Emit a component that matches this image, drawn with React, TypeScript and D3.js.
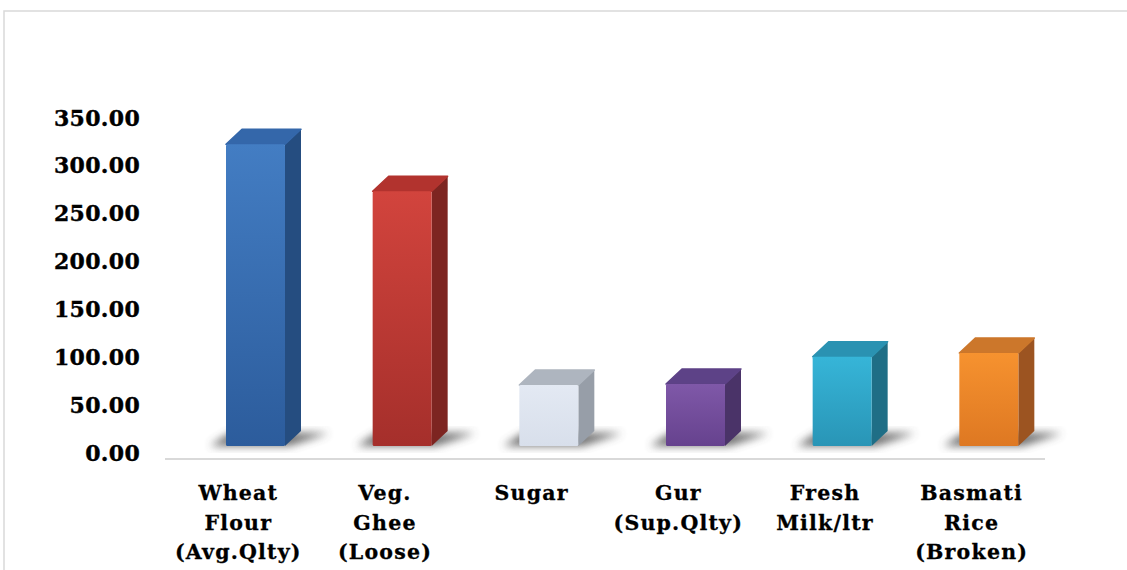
import React from "react";
import * as d3 from "d3";

const categories: string[][] = [
  ["Wheat", "Flour", "(Avg.Qlty)"],
  ["Veg.", "Ghee", "(Loose)"],
  ["Sugar"],
  ["Gur", "(Sup.Qlty)"],
  ["Fresh", "Milk/ltr"],
  ["Basmati", "Rice", "(Broken)"],
];
const values: number[] = [322, 273, 70.5, 71.5, 100, 104];
const tickValues: number[] = [0, 50, 100, 150, 200, 250, 300, 350];

const frontColors: [string, string][] = [
  ["#437dc3", "#2c5c9c"],
  ["#d2443d", "#a52f2b"],
  ["#e3e9f3", "#d8dfeb"],
  ["#7f58a8", "#66428e"],
  ["#36b5d8", "#2995b6"],
  ["#f6922f", "#de7822"],
];
const sideColors: string[] = ["#254d80", "#7d2521", "#979ea8", "#4a3368", "#1f6e86", "#9c5421"];
const topColors: string[] = ["#3467aa", "#b2332e", "#aeb5bf", "#5d4287", "#2a92b2", "#cc772b"];

export default function App() {
  const W = 1127;
  const H = 570;
  const x = d3.scaleBand<number>().domain(d3.range(categories.length)).range([165, 1045]).paddingInner(0).paddingOuter(0);
  const y = d3.scaleLinear().domain([0, 350]).range([452.5, 117.5]);
  const floorY = 446;
  const barW = 59;
  const barOff = 61;
  const dx = 16;
  const dy = -15;
  const font = "'DejaVu Serif', serif";

  return (
    <svg width={W} height={H} style={{ position: "absolute", left: 0, top: 0, background: "#fff" }}>
      <defs>
        {frontColors.map((c, i) => (
          <linearGradient key={i} id={`fg${i}`} x1="0" y1="0" x2="0" y2="1">
            <stop offset="0%" stopColor={c[0]} />
            <stop offset="100%" stopColor={c[1]} />
          </linearGradient>
        ))}
        <filter id="shblur" x="-50%" y="-50%" width="200%" height="200%">
          <feGaussianBlur stdDeviation="4" />
        </filter>
      </defs>
      <rect x={4} y={11} width={1140} height={580} fill="none" stroke="#d9d9d9" strokeWidth={1.5} />

      {tickValues.map((t) => (
        <text
          key={t}
          x={140}
          y={y(t)}
          textAnchor="end"
          dominantBaseline="central"
          fontFamily={font}
          fontWeight="bold"
          fontSize={22}
          letterSpacing={0.3}
          stroke="#000"
          strokeWidth={0.4}
          fill="#000"
        >
          {t.toFixed(2)}
        </text>
      ))}

      <line x1={165} x2={1045} y1={459} y2={459} stroke="#d9d9d9" strokeWidth={2} />

      {values.map((v, i) => {
        const x0 = (x(i) as number) + barOff;
        const x1 = x0 + barW;
        const yt = y(v);
        const yb = floorY;
        return (
          <g key={i}>
            <polygon
              points={`${x0 - 16},${yb} ${x1 + 4},${yb} ${x1 + dx + 28},${yb + dy + 2} ${x0 + 4},${yb + dy + 2}`}
              fill="#4a4a4a"
              opacity={0.8}
              filter="url(#shblur)"
            />
            <polygon
              points={`${x1},${yt} ${x1 + dx},${yt + dy} ${x1 + dx},${yb + dy} ${x1},${yb}`}
              fill={sideColors[i]}
              strokeLinejoin="round"
            />
            <polygon
              points={`${x0},${yt} ${x1},${yt} ${x1 + dx},${yt + dy} ${x0 + dx},${yt + dy}`}
              fill={topColors[i]}
              stroke={topColors[i]}
              strokeWidth={1.5}
              strokeLinejoin="round"
            />
            <rect x={x0} y={yt} width={barW} height={yb - yt} fill={`url(#fg${i})`} rx={1.5} />
          </g>
        );
      })}

      {categories.map((lines, i) => {
        const cx = (x(i) as number) + x.bandwidth() / 2;
        return (
          <text
            key={i}
            textAnchor="middle"
            fontFamily={font}
            fontWeight="bold"
            fontSize={20.5}
            letterSpacing={1.2}
            stroke="#000"
            strokeWidth={0.3}
            fill="#000"
          >
            {lines.map((l, j) => (
              <tspan key={j} x={cx} y={500 + j * 29.5}>
                {l}
              </tspan>
            ))}
          </text>
        );
      })}
    </svg>
  );
}
